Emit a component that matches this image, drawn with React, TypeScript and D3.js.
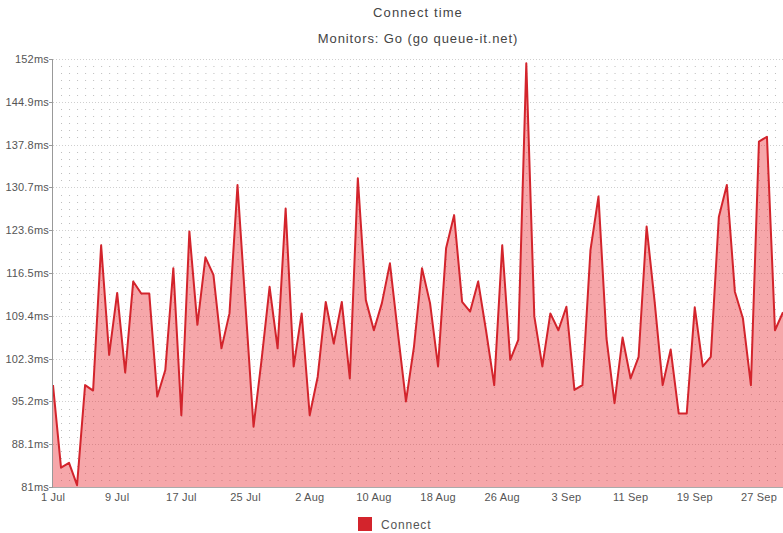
import React from "react";
import * as d3 from "d3";

// Daily connect time (ms), 1 Jul – 30 Sep
const connectValues = [
  97.9, 84.2, 85.0, 81.3, 97.9, 97.0, 121.1, 102.9, 113.2, 100.0,
  115.1, 113.1, 113.1, 96.0, 100.4, 117.3, 92.9, 123.4, 107.9, 119.1,
  116.2, 104.0, 109.8, 131.1, 111.0, 91.0, 102.1, 114.2, 104.0, 127.2,
  101.0, 109.8, 92.9, 99.3, 111.7, 104.8, 111.7, 99.0, 132.2, 112.0,
  107.0, 111.5, 118.1, 106.5, 95.2, 104.3, 117.3, 111.5, 101.0, 120.6,
  126.1, 111.7, 110.1, 115.1, 106.8, 97.9, 121.1, 102.1, 105.4, 151.3,
  109.3, 101.0, 109.8, 107.0, 110.9, 97.1, 97.9, 120.3, 129.2, 105.6,
  94.9, 105.8, 99.0, 102.6, 124.2, 111.7, 97.9, 103.8, 93.2, 93.2,
  110.8, 101.0, 102.6, 125.8, 131.1, 113.4, 109.0, 97.9, 138.3, 139.1,
  107.0, 110.0,
];

const yTicks = [81, 88.1, 95.2, 102.3, 109.4, 116.5, 123.6, 130.7, 137.8, 144.9, 152];
const yTickLabels = ["81ms", "88.1ms", "95.2ms", "102.3ms", "109.4ms", "116.5ms", "123.6ms", "130.7ms", "137.8ms", "144.9ms", "152ms"];
const xTickLabels = ["1 Jul", "9 Jul", "17 Jul", "25 Jul", "2 Aug", "10 Aug", "18 Aug", "26 Aug", "3 Sep", "11 Sep", "19 Sep", "27 Sep"];

const title = "Connect time";
const subtitle = "Monitors: Go (go queue-it.net)";
const seriesName = "Connect";

const width = 783;
const height = 533;
const margin = { top: 59, right: 0, bottom: 46, left: 53 };
const font = "'Liberation Sans', Arial, sans-serif";
const red = "#d3242c";

const start = new Date(Date.UTC(2015, 6, 1));
const dayMs = 24 * 3600 * 1000;

export default function App() {
  const data = connectValues.map((v, i) => ({ date: new Date(start.getTime() + i * dayMs), value: v }));

  const x = d3
    .scaleUtc()
    .domain([start, data[data.length - 1].date])
    .range([margin.left, width - margin.right]);
  const y = d3
    .scaleLinear()
    .domain([81, 152])
    .range([height - margin.bottom, margin.top]);

  const xTicks = xTickLabels.map((_, i) => new Date(start.getTime() + i * 8 * dayMs));
  const dayStep = x(new Date(start.getTime() + dayMs)) - x(start);

  // minor grid rows: 6 per labelled step
  const minorRows: number[] = [];
  for (let t = 0; t < yTicks.length - 1; t++) {
    for (let k = 1; k < 6; k++) minorRows.push(yTicks[t] + ((yTicks[t + 1] - yTicks[t]) * k) / 6);
  }

  const area = d3
    .area<{ date: Date; value: number }>()
    .x(d => x(d.date))
    .y0(y(81))
    .y1(d => y(d.value));
  const line = d3
    .line<{ date: Date; value: number }>()
    .x(d => x(d.date))
    .y(d => y(d.value));

  const plotCenter = (margin.left + width - margin.right) / 2;

  return (
    <svg
      width={width}
      height={height}
      style={{ position: "absolute", left: 0, top: 0, background: "#fff" }}
      fontFamily={font}
    >
      <defs>
        <clipPath id="plot">
          <rect x={margin.left} y={margin.top - 2} width={width - margin.left} height={height - margin.top - margin.bottom + 2} />
        </clipPath>
      </defs>

      <text x={plotCenter} y={17} textAnchor="middle" fontSize={13} letterSpacing={1.1} fill="#444">{title}</text>
      <text x={plotCenter} y={43} textAnchor="middle" fontSize={13} letterSpacing={0.9} fill="#444">{subtitle}</text>

      {/* dotted grid */}
      <g>
        {minorRows.map((v, i) => (
          <line
            key={"m" + i}
            x1={margin.left + dayStep}
            x2={width}
            y1={Math.round(y(v)) + 0.5}
            y2={Math.round(y(v)) + 0.5}
            stroke="#bdbdbd"
            strokeDasharray={`1 ${dayStep - 1}`}
          />
        ))}
        {yTicks.map((v, i) => (
          <line
            key={"M" + i}
            x1={margin.left}
            x2={width}
            y1={Math.round(y(v)) + 0.5}
            y2={Math.round(y(v)) + 0.5}
            stroke="#cfcfcf"
            strokeDasharray="1 2"
          />
        ))}
      </g>

      <g clipPath="url(#plot)">
        <path d={area(data) ?? ""} fill="#e8222b" fillOpacity={0.4} />
        <path d={line(data) ?? ""} fill="none" stroke={red} strokeWidth={2} strokeLinejoin="round" />
      </g>

      {/* axes */}
      <line x1={margin.left - 0.5} x2={margin.left - 0.5} y1={margin.top} y2={y(81)} stroke="#999" />
      <line x1={margin.left} x2={width} y1={y(81) + 0.5} y2={y(81) + 0.5} stroke="#aaa" />
      {yTicks.map((v, i) => (
        <g key={"yt" + i} transform={`translate(0,${Math.round(y(v)) + 0.5})`}>
          <line x1={margin.left - 4} x2={margin.left} stroke="#999" />
          <text x={margin.left - 4} dy="0.35em" textAnchor="end" fontSize={11} letterSpacing={0.2} fill="#555">
            {yTickLabels[i]}
          </text>
        </g>
      ))}
      {xTicks.map((d, i) => (
        <text key={"xt" + i} x={x(d)} y={y(81) + 14} textAnchor="middle" fontSize={11} letterSpacing={0.2} fill="#555">
          {xTickLabels[i]}
        </text>
      ))}

      {/* legend */}
      <rect x={358} y={517} width={14} height={14} fill={red} />
      <text x={381} y={529} fontSize={12} letterSpacing={0.8} fill="#555">{seriesName}</text>
    </svg>
  );
}
